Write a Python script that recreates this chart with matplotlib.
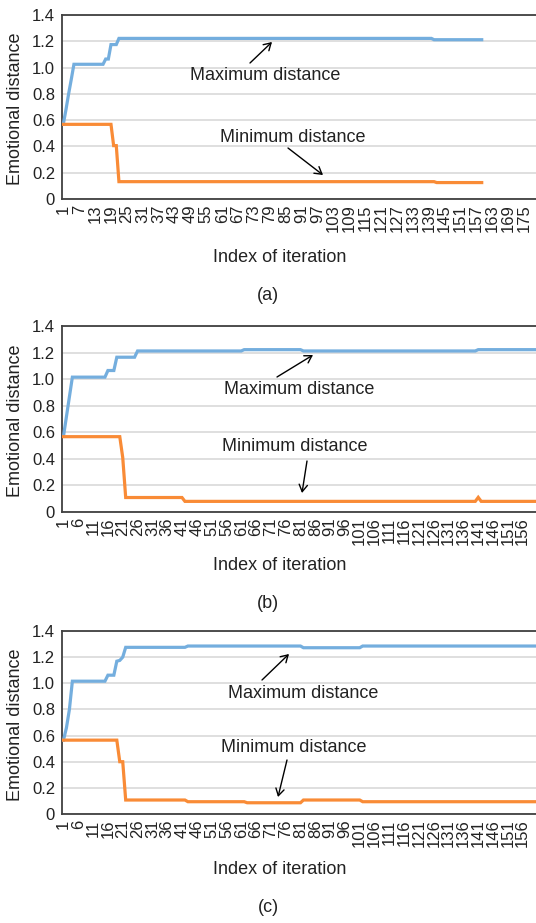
import numpy as np
import matplotlib
matplotlib.use("Agg")
import matplotlib.pyplot as plt

plt.rcParams['font.family'] = ['Liberation Sans', 'DejaVu Sans']

# ---------------- data (run-length: values, counts) ----------------
# Panel (a)
a_max_vals = [0.57, 0.68, 0.80, 0.91, 1.025, 1.065, 1.175, 1.222, 1.212]
a_max_runs = [1, 1, 1, 1, 12, 2, 3, 119, 19]
a_min_vals = [0.568, 0.406, 0.132, 0.125]
a_min_runs = [19, 2, 120, 18]
a_ncat = 179
a_tick_step = 6

# Panel (b)
b_max_vals = [0.57, 0.72, 0.87, 1.015, 1.065, 1.165, 1.212, 1.222, 1.212, 1.222]
b_max_runs = [1, 1, 1, 12, 3, 7, 36, 20, 59, 20]
b_min_vals = [0.567, 0.41, 0.109, 0.08, 0.11, 0.08]
b_min_runs = [20, 1, 20, 99, 1, 19]
b_ncat = 160
b_tick_step = 5

# Panel (c)
c_max_vals = [0.565, 0.66, 0.80, 1.016, 1.062, 1.169, 1.175, 1.20, 1.275, 1.285, 1.272, 1.285]
c_max_runs = [1, 1, 1, 12, 3, 1, 1, 1, 21, 39, 20, 59]
c_min_vals = [0.565, 0.40, 0.107, 0.094, 0.086, 0.107, 0.094]
c_min_runs = [19, 2, 21, 20, 19, 20, 59]
c_ncat = 160
c_tick_step = 5

y_ticks = [0, 0.2, 0.4, 0.6, 0.8, 1.0, 1.2, 1.4]
y_ticklabels = ["0", "0.2", "0.4", "0.6", "0.8", "1.0", "1.2", "1.4"]
panel_labels = ["(a)", "(b)", "(c)"]
max_label = "Maximum distance"
min_label = "Minimum distance"
xlabel = "Index of iteration"
ylabel = "Emotional distance"

BLUE = "#74AEDE"
ORANGE = "#F98B36"

W, H = 536, 923
fig = plt.figure(figsize=(W / 100, H / 100), dpi=100)


def fx(px):
    return px / W


def fy(py):
    return 1 - py / H


def expand(vals, runs):
    return np.repeat(np.array(vals, dtype=float), runs)


panels = [
    dict(mx=expand(a_max_vals, a_max_runs), mn=expand(a_min_vals, a_min_runs),
         n=a_ncat, step=a_tick_step, top=15, bot=199,
         max_text=(265, 76), max_arrow=((250, 63), (272, 42)),
         min_text=(293, 137), min_arrow=((288, 148), (323, 175)),
         xl_y=258, pl_y=296, yl_y=109),
    dict(mx=expand(b_max_vals, b_max_runs), mn=expand(b_min_vals, b_min_runs),
         n=b_ncat, step=b_tick_step, top=326, bot=512,
         max_text=(299, 390), max_arrow=((277, 377), (313, 355)),
         min_text=(295, 447), min_arrow=((307, 461), (302, 493)),
         xl_y=566, pl_y=604, yl_y=421),
    dict(mx=expand(c_max_vals, c_max_runs), mn=expand(c_min_vals, c_min_runs),
         n=c_ncat, step=c_tick_step, top=631, bot=814,
         max_text=(303, 693), max_arrow=((262, 680), (289, 654)),
         min_text=(294, 747), min_arrow=((287, 760), (278, 797)),
         xl_y=870, pl_y=908, yl_y=725),
]

for p, plab in zip(panels, panel_labels):
    left, right = 62, 536
    ax = fig.add_axes([fx(left), fy(p['bot']), fx(right - left), (p['bot'] - p['top']) / H])
    n = p['n']
    x_max = np.arange(1, len(p['mx']) + 1)
    x_min = np.arange(1, len(p['mn']) + 1)
    ax.plot(x_max, p['mx'], color=BLUE, lw=2.3, solid_joinstyle='miter', zorder=3)
    ax.plot(x_min, p['mn'], color=ORANGE, lw=2.3, solid_joinstyle='miter', zorder=3)
    ax.set_xlim(0.5, n + 0.5)
    ax.set_ylim(0, 1.4)
    ax.set_yticks(y_ticks)
    ax.set_yticklabels(y_ticklabels, fontsize=12, color="#222222")
    xt = list(range(1, n + 1, p['step']))
    ax.set_xticks(xt)
    ax.set_xticklabels([str(v) for v in xt], rotation=90, fontsize=12, color="#222222",
                       va='top', ha='center')
    ax.tick_params(axis='both', length=0)
    ax.tick_params(axis='y', pad=5)
    ax.tick_params(axis='x', pad=4)
    ax.grid(axis='y', color="#D9D9D9", lw=1.2, zorder=0)
    ax.set_axisbelow(True)
    for s in ['left', 'top', 'bottom']:
        ax.spines[s].set_color("#404040")
        ax.spines[s].set_linewidth(1.3)
    ax.spines['right'].set_visible(False)

    # annotations
    tx, ty = p['max_text']
    fig.text(fx(tx), fy(ty), max_label, fontsize=13, ha='center', va='center', color="#222222")
    tx, ty = p['min_text']
    fig.text(fx(tx), fy(ty), min_label, fontsize=13, ha='center', va='center', color="#222222")
    for (s, e) in [p['max_arrow'], p['min_arrow']]:
        fig.add_artist(matplotlib.patches.FancyArrowPatch(
            (fx(s[0]), fy(s[1])), (fx(e[0]), fy(e[1])), transform=fig.transFigure,
            arrowstyle='->,head_length=5,head_width=3', color='black', lw=1.0,
            shrinkA=0, shrinkB=0, mutation_scale=1))

    fig.text(fx(280), fy(p['xl_y']), xlabel, fontsize=13, ha='center', va='center', color="#222222")
    fig.text(fx(16), fy(p['yl_y']), ylabel, fontsize=13, ha='center', va='center',
             rotation=90, color="#222222")
    fig.text(fx(268), fy(p['pl_y']), plab, fontsize=13, ha='center', va='center', color="#222222")

fig.savefig("out.png", dpi=100)
